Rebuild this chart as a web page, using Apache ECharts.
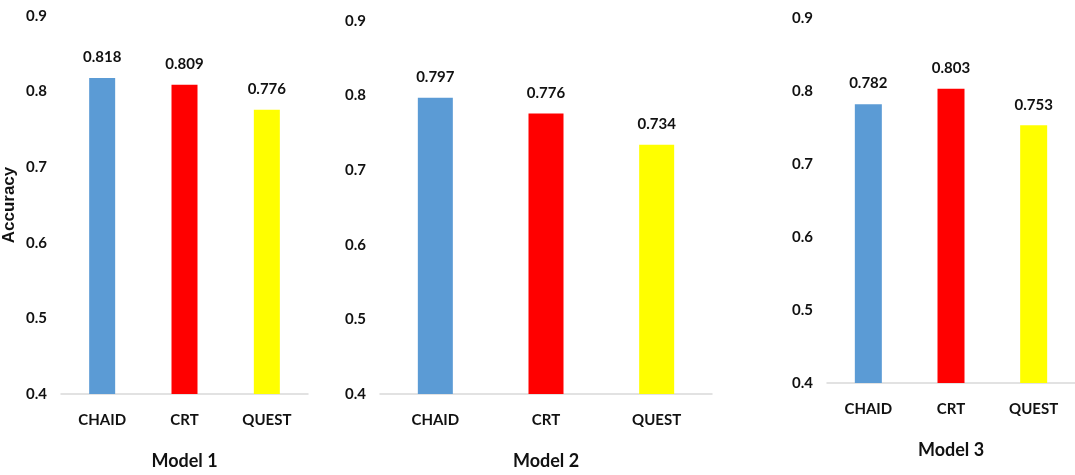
<!DOCTYPE html>
<html>
<head>
<meta charset="utf-8">
<script src="https://cdn.jsdelivr.net/npm/echarts@6/dist/echarts.min.js"></script>
<style>
  html, body { margin: 0; padding: 0; background: #fff; }
  #chart { width: 1075px; height: 475px; }
</style>
</head>
<body>
<div id="chart"></div>
<script>
// Decision-tree methods compared in each model
const categories = ['CHAID', 'CRT', 'QUEST'];
const model1 = [0.818, 0.809, 0.776];
const model2 = [0.797, 0.776, 0.734];
const model3 = [0.782, 0.803, 0.753];
const modelNames = ['Model 1', 'Model 2', 'Model 3'];
const yTicks = [0.4, 0.5, 0.6, 0.7, 0.8, 0.9];

const barColors = ['#5B9BD5', '#FF0000', '#FFFF00'];
const FONT = 'Lato, "Open Sans", sans-serif';
const TEXT = '#111';

// Panel layouts: one grid per model
const panels = [
  { values: model1, grid: { left: 60, right: 767, top: 16, bottom: 77 }, barWidth: 26, yName: 'Accuracy' },
  { values: model2, grid: { left: 380, right: 363, top: 21, bottom: 75 }, barWidth: 35, yName: '' },
  { values: model3, grid: { left: 827, right: -8, top: 18, bottom: 92 }, barWidth: 27, yName: '' }
];

const option = {
  animation: false,
  grid: panels.map(p => Object.assign({ containLabel: false }, p.grid)),
  xAxis: panels.map((p, i) => ({
    type: 'category',
    gridIndex: i,
    data: categories,
    name: modelNames[i],
    nameLocation: 'middle',
    nameGap: 58,
    nameTextStyle: { fontFamily: FONT, fontSize: 18, fontWeight: 'bold', color: TEXT },
    axisLine: { lineStyle: { color: '#d9d9d9', width: 1.5 } },
    axisTick: { show: false },
    axisLabel: { fontFamily: FONT, fontSize: 15, fontWeight: 'bold', color: TEXT, margin: 19 }
  })),
  yAxis: panels.map((p, i) => ({
    type: 'value',
    gridIndex: i,
    min: yTicks[0],
    max: yTicks[yTicks.length - 1],
    interval: 0.1,
    name: p.yName,
    nameLocation: 'middle',
    nameGap: 43,
    nameTextStyle: { fontFamily: 'Liberation Sans, Arial, sans-serif', fontSize: 17, fontWeight: 'bold', color: TEXT },
    axisLine: { show: false },
    axisTick: { show: false },
    splitLine: { show: false },
    axisLabel: {
      fontFamily: FONT, fontSize: 15, fontWeight: 'bold', color: TEXT, margin: 14,
      formatter: v => String(Math.round(v * 10) / 10)
    }
  })),
  series: panels.map((p, i) => ({
    type: 'bar',
    xAxisIndex: i,
    yAxisIndex: i,
    barWidth: p.barWidth,
    data: p.values.map((v, j) => ({ value: v, itemStyle: { color: barColors[j] } })),
    label: {
      show: true,
      position: 'top',
      distance: 13,
      fontFamily: FONT,
      fontSize: 15,
      fontWeight: 'bold',
      color: TEXT,
      formatter: d => d.value.toFixed(3)
    }
  }))
};

echarts.init(document.getElementById('chart')).setOption(option);
</script>
</body>
</html>
